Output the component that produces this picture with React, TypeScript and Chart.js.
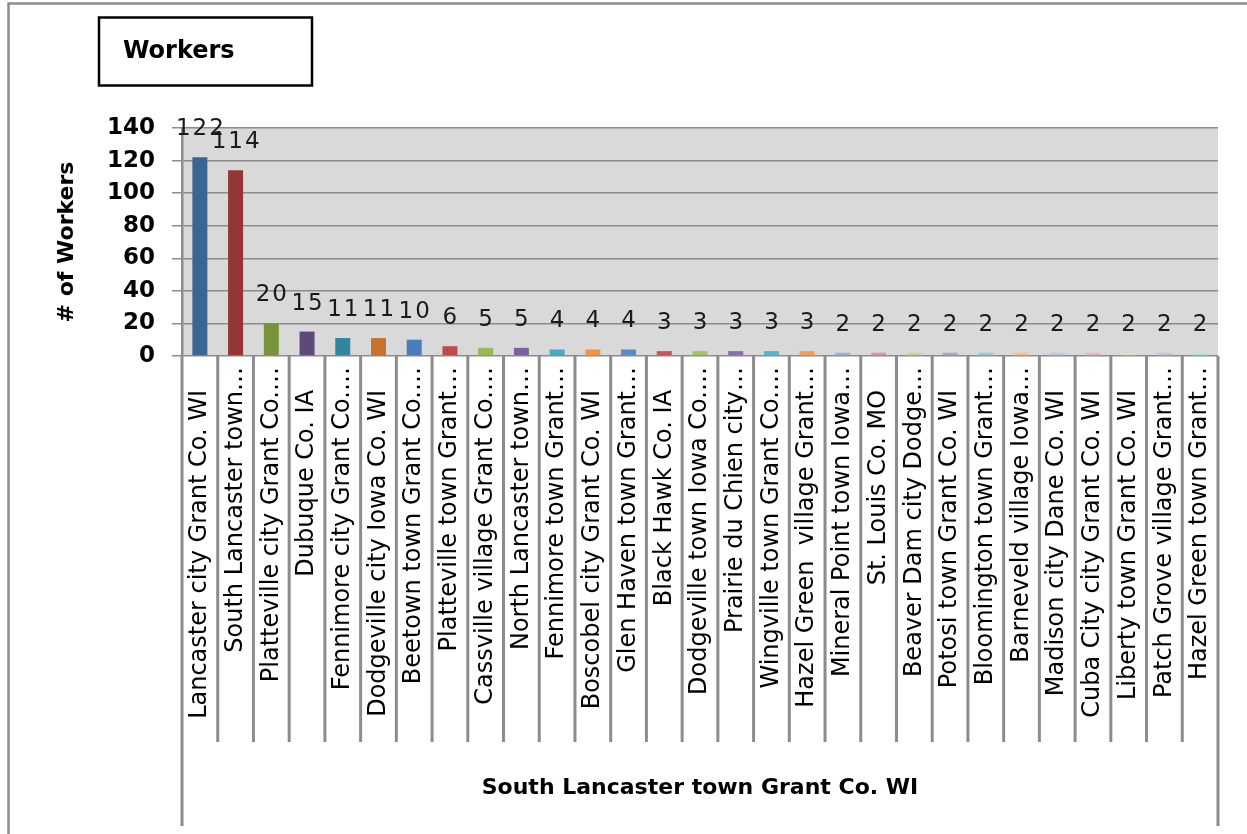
import React, { useEffect, useRef } from 'react';
import { Chart, registerables } from 'chart.js';

Chart.register(...registerables);

const categories: string[] = [
  'Lancaster city Grant Co. WI',
  'South Lancaster town…',
  'Platteville city Grant Co.…',
  'Dubuque Co. IA',
  'Fennimore city Grant Co.…',
  'Dodgeville city Iowa Co. WI',
  'Beetown town Grant Co.…',
  'Platteville town Grant…',
  'Cassville village Grant Co.…',
  'North Lancaster town…',
  'Fennimore town Grant…',
  'Boscobel city Grant Co. WI',
  'Glen Haven town Grant…',
  'Black Hawk Co. IA',
  'Dodgeville town Iowa Co.…',
  'Prairie du Chien city…',
  'Wingville town Grant Co.…',
  'Hazel Green  village Grant…',
  'Mineral Point town Iowa…',
  'St. Louis Co. MO',
  'Beaver Dam city Dodge…',
  'Potosi town Grant Co. WI',
  'Bloomington town Grant…',
  'Barneveld village Iowa…',
  'Madison city Dane Co. WI',
  'Cuba City city Grant Co. WI',
  'Liberty town Grant Co. WI',
  'Patch Grove village Grant…',
  'Hazel Green town Grant…',
];

const workers: number[] = [
  122, 114, 20, 15, 11, 11, 10, 6, 5, 5, 4, 4, 4, 3, 3, 3, 3, 3, 2, 2, 2, 2, 2, 2, 2, 2, 2, 2, 2,
];

const barColors: string[] = [
  '#3C6494', '#943634', '#77933C', '#5F497A', '#31859C', '#C6722F',
  '#4A7EBB', '#BE4B48', '#98B954', '#7D60A0', '#46AAC5', '#F69240',
  '#5A8BCB', '#CB5552', '#A3C263', '#8A6DAD', '#53B4CE', '#F99C50',
  '#95B3D7', '#D99694', '#C3D69B', '#B3A2C7', '#93CDDD', '#FAC090',
  '#B9CDE5', '#E6B9B8', '#D7E4BD', '#CCC1DA', '#B7DEE8',
];

const yMin = 0;
const yMax = 140;
const yStep = 20;

const chartTitle = 'Workers';
const yTitle = '# of Workers';
const xGroupTitle = 'South Lancaster town Grant Co. WI';

const FONT = '"DejaVu Sans", sans-serif';

const decorPlugin = {
  id: 'decor',
  beforeDraw(chart: any) {
    const { ctx, chartArea: a } = chart;
    ctx.save();
    ctx.fillStyle = '#ffffff';
    ctx.fillRect(0, 0, chart.width, chart.height);
    ctx.fillStyle = '#D9D9D9';
    ctx.fillRect(a.left, a.top, a.right - a.left, a.bottom - a.top);
    // outer frame
    ctx.strokeStyle = '#8C8C8C';
    ctx.lineWidth = 2.5;
    ctx.beginPath();
    ctx.moveTo(8.5, chart.height);
    ctx.lineTo(8.5, 3.5);
    ctx.lineTo(chart.width, 3.5);
    ctx.stroke();
    // title box
    ctx.strokeStyle = '#000000';
    ctx.lineWidth = 2.5;
    ctx.strokeRect(99, 17.5, 213, 68);
    ctx.fillStyle = '#000000';
    ctx.font = 'bold 24px ' + FONT;
    ctx.textAlign = 'left';
    ctx.textBaseline = 'middle';
    ctx.fillText(chartTitle, 123, 52);
    ctx.restore();
  },
  afterDatasetsDraw(chart: any) {
    const { ctx } = chart;
    const meta = chart.getDatasetMeta(0);
    ctx.save();
    ctx.font = '23px ' + FONT;
    try {
      (ctx as any).letterSpacing = '2px';
    } catch (e) {
      /* ignore */
    }
    ctx.fillStyle = '#1A1A1A';
    ctx.textAlign = 'center';
    ctx.textBaseline = 'alphabetic';
    meta.data.forEach((el: any, i: number) => {
      ctx.fillText(String(workers[i]), el.x + 1, el.y - 22);
    });
    ctx.restore();
  },
  afterDraw(chart: any) {
    const { ctx, chartArea: a } = chart;
    const xs = chart.scales.x;
    const n = categories.length;
    const half = (xs.getPixelForValue(1) - xs.getPixelForValue(0)) / 2;
    ctx.save();
    ctx.strokeStyle = '#8C8C8C';
    ctx.lineWidth = 3;
    for (let i = 0; i <= n; i++) {
      const px = i < n ? xs.getPixelForValue(i) - half : xs.getPixelForValue(n - 1) + half;
      const outer = i === 0 || i === n;
      ctx.beginPath();
      ctx.moveTo(px, a.bottom);
      ctx.lineTo(px, outer ? 826 : 742);
      ctx.stroke();
    }
    ctx.restore();
  },
};

export default function App() {
  const canvasRef = useRef<HTMLCanvasElement | null>(null);

  useEffect(() => {
    if (!canvasRef.current) return;
    const chart = new Chart(canvasRef.current, {
      type: 'bar',
      data: {
        labels: categories,
        datasets: [
          {
            data: workers,
            backgroundColor: barColors,
            borderWidth: 0,
            barPercentage: 0.42,
            categoryPercentage: 1,
          },
        ],
      },
      options: {
        animation: false,
        responsive: true,
        maintainAspectRatio: false,
        layout: { padding: { top: 128, right: 29, left: 0, bottom: 0 } },
        plugins: {
          legend: { display: false },
          tooltip: { enabled: false },
          title: { display: false },
        },
        scales: {
          x: {
            grid: { display: false, drawTicks: false },
            border: { display: false },
            ticks: {
              autoSkip: false,
              maxRotation: 90,
              minRotation: 90,
              padding: 11,
              color: '#000000',
              font: { family: FONT, size: 24 },
              callback: (_v: any, i: number) => {
                const l = categories[i];
                return l.endsWith('…') ? l : l + '   ';
              },
            },
            title: {
              display: true,
              text: xGroupTitle,
              color: '#000000',
              font: { family: FONT, size: 22, weight: 'bold' },
              padding: { top: 0, bottom: 33 },
            },
            afterFit: (s: any) => {
              s.height = 478;
            },
          },
          y: {
            min: yMin,
            max: yMax,
            ticks: {
              stepSize: yStep,
              padding: 17,
              color: '#000000',
              font: { family: FONT, size: 23, weight: 'bold' },
            },
            grid: { color: '#8C8C8C', lineWidth: 1.5, tickLength: 10, drawTicks: true },
            border: { color: '#8C8C8C', width: 2.5 },
            title: {
              display: true,
              text: yTitle,
              color: '#000000',
              font: { family: FONT, size: 22, weight: 'bold' },
              padding: { top: 54, bottom: 0 },
            },
            afterFit: (s: any) => {
              s.width = 182;
            },
          },
        },
      } as any,
      plugins: [decorPlugin],
    });
    return () => chart.destroy();
  }, []);

  return (
    <div style={{ position: 'absolute', left: 0, top: 0, width: 1247, height: 834 }}>
      <canvas ref={canvasRef} />
    </div>
  );
}
